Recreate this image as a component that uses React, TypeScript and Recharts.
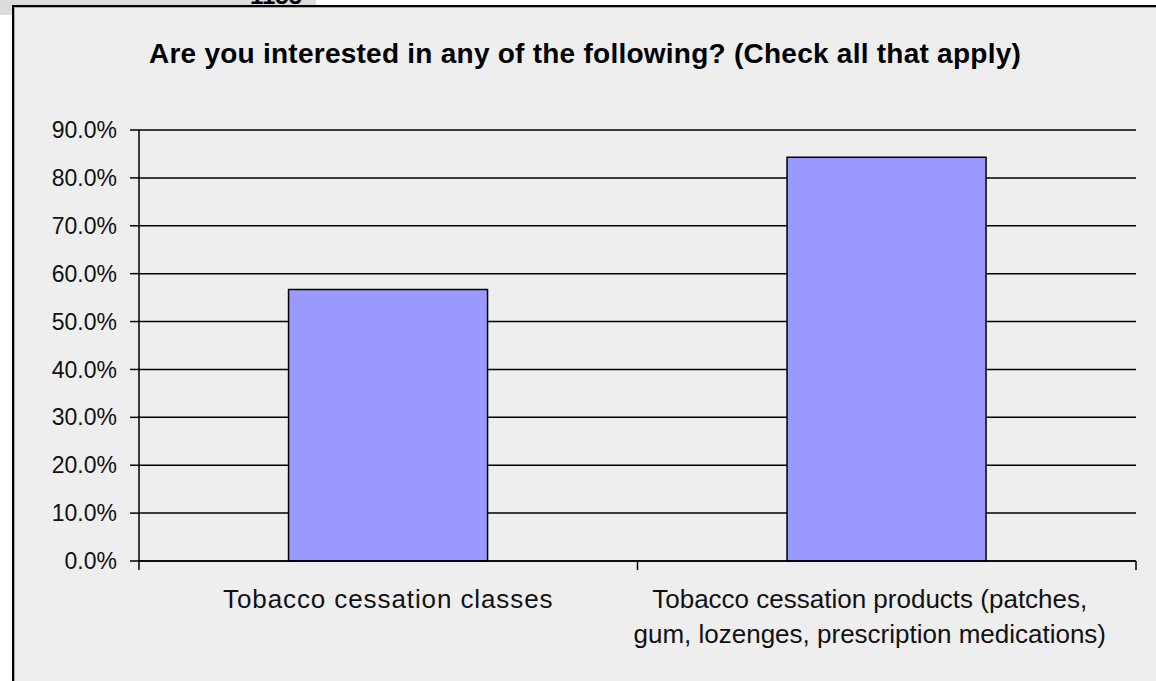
import { Bar, BarChart, CartesianGrid, XAxis, YAxis } from "recharts";

// chart content
const TITLE = "Are you interested in any of the following? (Check all that apply)";
const categories = [
  "Tobacco cessation classes",
  "Tobacco cessation products (patches, gum, lozenges, prescription medications)",
];
// wrapped label lines, as Excel broke them
const categoryLines = [
  ["Tobacco cessation classes"],
  ["Tobacco cessation products (patches,", "gum, lozenges, prescription medications)"],
];
const shares = [0.567, 0.843];
const yTicks = [0, 0.1, 0.2, 0.3, 0.4, 0.5, 0.6, 0.7, 0.8, 0.9];

const data = categories.map((name, i) => ({ name, value: shares[i] }));

const FONT = '"Liberation Sans", Arial, sans-serif';

const pct = (v: number) => `${(v * 100).toFixed(1)}%`;

/** Category label + Excel-style ticks between the categories. */
function CategoryTick(props: any) {
  const { x, y, payload, index, visibleTicksCount, width } = props;
  const half = payload?.offset ?? width / visibleTicksCount / 2;
  const lines = categoryLines[index] ?? [String(payload.value)];
  const wrapped = lines.length > 1;
  const shift = wrapped ? -17 : 0;
  const isLast = index === visibleTicksCount - 1;
  return (
    <g>
      <line x1={x - half} y1={y} x2={x - half} y2={y + 9} stroke="#000" strokeWidth={1.5} />
      {isLast && (
        <line x1={x + half} y1={y} x2={x + half} y2={y + 9} stroke="#000" strokeWidth={1.5} />
      )}
      <text
        textAnchor="middle"
        fontFamily={FONT}
        fontSize={26}
        fill="#111"
        letterSpacing={wrapped ? 0 : 0.9}
      >
        {lines.map((l, i) => (
          <tspan key={i} x={x + shift} y={y + 47 + i * 35}>
            {l}
          </tspan>
        ))}
      </text>
    </g>
  );
}

export default function App() {
  return (
    <div style={{ position: "absolute", left: 0, top: 0, width: 1156, height: 681, background: "#fff", overflow: "hidden" }}>
      {/* bit of the sheet behind the chart */}
      <div style={{ position: "absolute", left: 0, top: 0, width: 316, height: 15, background: "#dcdcdc", overflow: "hidden" }}>
        <div style={{ position: "absolute", left: 250, top: -16, fontFamily: FONT, fontWeight: 700, fontSize: 24, lineHeight: "24px", color: "#000" }}>
          1155
        </div>
      </div>
      {/* chart frame */}
      <div
        style={{
          position: "absolute",
          left: 12,
          top: 5,
          width: 1160,
          height: 700,
          background: "#eeeeee",
          borderLeft: "2px solid #000",
          borderTop: "2px solid #000",
          boxShadow: "inset 1px 1px 0 #aaa",
        }}
      />
      <div
        style={{
          position: "absolute",
          left: 0,
          top: 40,
          width: 1170,
          textAlign: "center",
          fontFamily: FONT,
          fontWeight: 700,
          fontSize: 28,
          lineHeight: "28px",
          letterSpacing: 0.25,
          color: "#000",
          whiteSpace: "nowrap",
        }}
      >
        {TITLE}
      </div>
      <div style={{ position: "absolute", left: 0, top: 0 }}>
        <BarChart
          width={1156}
          height={681}
          data={data}
          margin={{ top: 130, right: 20, bottom: 0, left: 0 }}
          barCategoryGap="30%"
        >
          <CartesianGrid vertical={false} stroke="#000" strokeWidth={1.5} />
          <XAxis
            dataKey="name"
            height={120}
            interval={0}
            tickLine={false}
            tickSize={0}
            tickMargin={0}
            axisLine={{ stroke: "#000", strokeWidth: 1.5 }}
            tick={<CategoryTick />}
          />
          <YAxis
            width={139}
            domain={[0, 0.9]}
            ticks={yTicks}
            tickFormatter={pct}
            tickSize={9}
            tickMargin={13}
            tickLine={{ stroke: "#000", strokeWidth: 1.5 }}
            axisLine={{ stroke: "#000", strokeWidth: 1.5 }}
            tick={{ fill: "#111", fontFamily: FONT, fontSize: 23 }}
          />
          <Bar dataKey="value" fill="#9999ff" stroke="#000" strokeWidth={1.5} isAnimationActive={false} />
        </BarChart>
      </div>
    </div>
  );
}
